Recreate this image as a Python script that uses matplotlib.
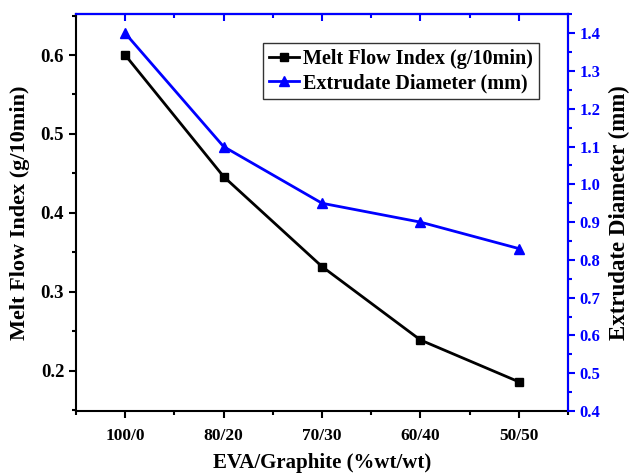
import matplotlib
matplotlib.use("Agg")
import matplotlib.pyplot as plt
from matplotlib.ticker import MultipleLocator

categories = ["100/0", "80/20", "70/30", "60/40", "50/50"]
mfi = [0.600, 0.446, 0.332, 0.239, 0.186]
diameter = [1.40, 1.10, 0.95, 0.90, 0.83]

plt.rcParams['font.family'] = ['Liberation Serif', 'DejaVu Serif']
plt.rcParams['font.weight'] = 'bold'

fig = plt.figure(figsize=(6.3, 4.74), dpi=100)
ax = fig.add_axes([0.1206, 0.1329, 0.781, 0.8376])
x = list(range(len(categories)))

l1, = ax.plot(x, mfi, color='black', lw=2, marker='s', ms=6,
              label='Melt Flow Index (g/10min)')
ax.set_xlim(-0.5, 4.5)
ax.set_ylim(0.149, 0.652)
ax.set_xticks(x)
ax.set_xticklabels(categories, fontsize=12.5, fontweight='bold')
ax.xaxis.set_minor_locator(MultipleLocator(0.5))
ax.yaxis.set_major_locator(MultipleLocator(0.1))
ax.yaxis.set_minor_locator(MultipleLocator(0.05))
ax.tick_params(axis='both', which='major', direction='out', length=5, width=1.5)
ax.tick_params(axis='both', which='minor', direction='out', length=3, width=1.5)
ax.tick_params(axis='x', pad=7, labelsize=12.5)
ax.tick_params(axis='y', labelsize=13.5)
for lbl in ax.get_yticklabels():
    lbl.set_fontweight('bold')
for s in ax.spines.values():
    s.set_linewidth(1.5)
ax.set_xlabel('EVA/Graphite (%wt/wt)', fontsize=15, fontweight='bold', labelpad=7)
ax.set_ylabel('Melt Flow Index (g/10min)', fontsize=16, fontweight='bold', labelpad=8)

ax2 = ax.twinx()
l2, = ax2.plot(x, diameter, color='blue', lw=2, marker='^', ms=7,
               label='Extrudate Diameter (mm)')
ax2.set_ylim(0.4, 1.451)
ax2.yaxis.set_major_locator(MultipleLocator(0.1))
ax2.yaxis.set_minor_locator(MultipleLocator(0.05))
ax2.tick_params(axis='y', which='major', direction='out', length=5, width=1.5,
                colors='blue', labelsize=12)
ax2.tick_params(axis='y', which='minor', direction='out', length=3, width=1.5, colors='blue')
for lbl in ax2.get_yticklabels():
    lbl.set_fontweight('bold')
ax2.spines['right'].set_color('blue')
ax2.spines['top'].set_color('blue')
for s in ax2.spines.values():
    s.set_linewidth(1.5)
ax2.spines['left'].set_visible(False)
ax2.spines['bottom'].set_visible(False)
ax2.set_ylabel('Extrudate Diameter (mm)', fontsize=16.5, fontweight='bold', color='black', labelpad=6)

# top ticks (inward, blue)
axt = ax.secondary_xaxis('top')
axt.set_xticks(x)
axt.xaxis.set_minor_locator(MultipleLocator(0.5))
axt.tick_params(which='major', direction='in', length=5, width=1.5, colors='blue', labeltop=False)
axt.tick_params(which='minor', direction='in', length=3, width=1.5, colors='blue')
axt.set_xticklabels([])
axt.spines['top'].set_color('blue')
axt.spines['top'].set_linewidth(1.5)

leg = ax.legend(handles=[l1, l2], loc='upper right', bbox_to_anchor=(0.941, 0.927),
                prop={'weight': 'bold', 'size': 14.5}, frameon=True, fancybox=False,
                edgecolor='black', handlelength=1.5, handletextpad=0.2, borderpad=0.3,
                labelspacing=0.2, borderaxespad=0)
leg.get_frame().set_linewidth(1.0)

fig.savefig('out.png', dpi=100)
